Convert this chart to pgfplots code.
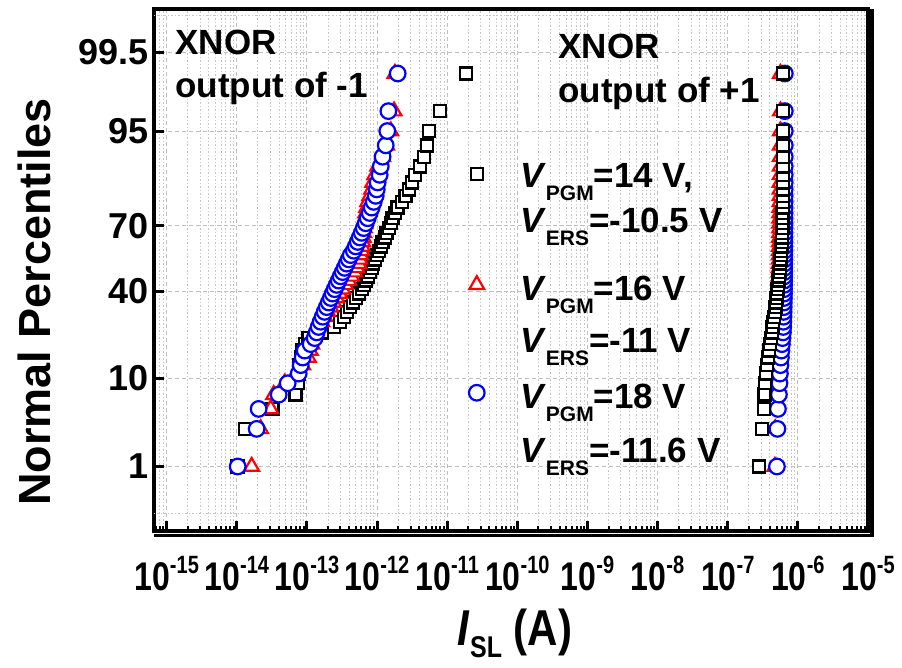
\documentclass[border=0pt]{standalone}
\usepackage{fontspec}
\setmainfont{Liberation Sans}
\usepackage{graphicx}
\usepackage{pgfplots}
\usepackage{pgfplotstable}
\pgfplotsset{compat=1.18}
\newcommand\fs[1]{\fontsize{#1}{#1}\selectfont}
\newcommand\xt[1]{\scalebox{1}[1.25]{10\raisebox{0.42em}{\fs{20}#1}}}
\newcommand\sub[1]{\raisebox{-13pt}{\fs{21}#1}}

\pgfplotstableread{
x z
1.03e-14 -2.3263
1.30e-14 -1.8808
3.25e-14 -1.6449
6.92e-14 -1.4758
7.40e-14 -1.3408
7.64e-14 -1.2265
7.89e-14 -1.1264
8.17e-14 -1.0364
8.43e-14 -0.9542
9.31e-14 -0.8779
1.06e-13 -0.8064
1.63e-13 -0.7388
2.41e-13 -0.6745
2.94e-13 -0.6128
3.35e-13 -0.5534
3.70e-13 -0.4959
4.08e-13 -0.4399
4.50e-13 -0.3853
4.97e-13 -0.3319
5.48e-13 -0.2793
6.05e-13 -0.2275
6.46e-13 -0.1764
6.90e-13 -0.1257
7.36e-13 -0.0753
7.87e-13 -0.0251
8.39e-13 0.0251
8.69e-13 0.0753
9.27e-13 0.1257
9.91e-13 0.1764
1.06e-12 0.2275
1.13e-12 0.2793
1.20e-12 0.3319
1.29e-12 0.3853
1.37e-12 0.4399
1.47e-12 0.4959
1.57e-12 0.5534
1.67e-12 0.6128
1.79e-12 0.6745
1.97e-12 0.7388
2.25e-12 0.8064
2.56e-12 0.8779
2.83e-12 0.9542
3.13e-12 1.0364
3.45e-12 1.1264
4.06e-12 1.2265
4.63e-12 1.3408
5.12e-12 1.4758
5.47e-12 1.6449
7.83e-12 1.8808
1.84e-11 2.3263
}\blackL

\pgfplotstableread{
x z
1.63e-14 -2.3263
2.19e-14 -1.8808
3.05e-14 -1.6449
3.36e-14 -1.4758
4.82e-14 -1.3408
6.92e-14 -1.2265
8.71e-14 -1.1264
1.05e-13 -1.0364
1.12e-13 -0.9542
1.17e-13 -0.8779
1.21e-13 -0.8064
1.29e-13 -0.7388
1.43e-13 -0.6745
1.63e-13 -0.6128
1.79e-13 -0.5534
1.98e-13 -0.4959
2.19e-13 -0.4399
2.41e-13 -0.3853
2.66e-13 -0.3319
2.94e-13 -0.2793
3.24e-13 -0.2275
3.57e-13 -0.1764
3.95e-13 -0.1257
4.35e-13 -0.0753
4.81e-13 -0.0251
5.13e-13 0.0251
5.48e-13 0.0753
5.67e-13 0.1257
5.85e-13 0.1764
6.05e-13 0.2275
6.15e-13 0.2793
6.25e-13 0.3319
6.35e-13 0.3853
6.46e-13 0.4399
6.57e-13 0.4959
6.68e-13 0.5534
6.79e-13 0.6128
6.90e-13 0.6745
7.13e-13 0.7388
7.36e-13 0.8064
7.87e-13 0.8779
8.39e-13 0.9542
8.69e-13 1.0364
9.27e-13 1.1264
1.02e-12 1.2265
1.20e-12 1.3408
1.37e-12 1.4758
1.57e-12 1.6449
1.75e-12 1.8808
1.80e-12 2.3263
}\redL

\pgfplotstableread{
x z
1.03e-14 -2.3263
1.92e-14 -1.8808
2.05e-14 -1.6449
3.96e-14 -1.4758
5.32e-14 -1.3408
7.64e-14 -1.2265
8.17e-14 -1.1264
8.71e-14 -1.0364
9.31e-14 -0.9542
1.13e-13 -0.8779
1.29e-13 -0.8064
1.38e-13 -0.7388
1.47e-13 -0.6745
1.57e-13 -0.6128
1.68e-13 -0.5534
1.79e-13 -0.4959
1.92e-13 -0.4399
2.05e-13 -0.3853
2.19e-13 -0.3319
2.33e-13 -0.2793
2.49e-13 -0.2275
2.66e-13 -0.1764
2.84e-13 -0.1257
3.03e-13 -0.0753
3.24e-13 -0.0251
3.46e-13 0.0251
3.70e-13 0.0753
3.95e-13 0.1257
4.22e-13 0.1764
4.66e-13 0.2275
4.97e-13 0.2793
5.31e-13 0.3319
5.67e-13 0.3853
6.05e-13 0.4399
6.46e-13 0.4959
6.90e-13 0.5534
7.36e-13 0.6128
7.87e-13 0.6745
8.39e-13 0.7388
8.97e-13 0.8064
9.57e-13 0.8779
9.91e-13 0.9542
1.02e-12 1.0364
1.09e-12 1.1264
1.13e-12 1.2265
1.20e-12 1.3408
1.33e-12 1.4758
1.40e-12 1.6449
1.45e-12 1.8808
1.97e-12 2.3263
}\blueL

\pgfplotstableread{
x z
2.79e-7 -2.3263
3.08e-7 -1.8808
3.28e-7 -1.6449
3.34e-7 -1.4758
3.39e-7 -1.3408
3.51e-7 -1.2265
3.62e-7 -1.1264
3.74e-7 -1.0364
3.87e-7 -0.9542
4.00e-7 -0.8779
4.13e-7 -0.8064
4.27e-7 -0.7388
4.34e-7 -0.6745
4.41e-7 -0.6128
4.56e-7 -0.5534
4.71e-7 -0.4959
4.79e-7 -0.4399
4.87e-7 -0.3853
4.95e-7 -0.3319
5.03e-7 -0.2793
5.11e-7 -0.2275
5.20e-7 -0.1764
5.28e-7 -0.1257
5.37e-7 -0.0753
5.47e-7 -0.0251
5.55e-7 0.0251
5.61e-7 0.0753
5.66e-7 0.1257
5.74e-7 0.1764
5.80e-7 0.2275
5.85e-7 0.2793
5.89e-7 0.3319
5.93e-7 0.3853
5.97e-7 0.4399
6.01e-7 0.4959
6.03e-7 0.5534
6.05e-7 0.6128
6.07e-7 0.6745
6.09e-7 0.7388
6.11e-7 0.8064
6.12e-7 0.8779
6.13e-7 0.9542
6.13e-7 1.0364
6.14e-7 1.1264
6.14e-7 1.2265
6.15e-7 1.3408
6.15e-7 1.4758
6.16e-7 1.6449
6.16e-7 1.8808
6.17e-7 2.3263
}\blackR

\pgfplotstableread{
x z
4.71e-7 -2.3263
4.75e-7 -1.8808
4.79e-7 -1.6449
4.83e-7 -1.4758
4.87e-7 -1.3408
4.91e-7 -1.2265
4.95e-7 -1.1264
4.99e-7 -1.0364
5.03e-7 -0.9542
5.07e-7 -0.8779
5.11e-7 -0.8064
5.15e-7 -0.7388
5.20e-7 -0.6745
5.24e-7 -0.6128
5.28e-7 -0.5534
5.30e-7 -0.4959
5.32e-7 -0.4399
5.33e-7 -0.3853
5.34e-7 -0.3319
5.35e-7 -0.2793
5.36e-7 -0.2275
5.37e-7 -0.1764
5.38e-7 -0.1257
5.39e-7 -0.0753
5.40e-7 -0.0251
5.41e-7 0.0251
5.42e-7 0.0753
5.43e-7 0.1257
5.44e-7 0.1764
5.45e-7 0.2275
5.46e-7 0.2793
5.47e-7 0.3319
5.48e-7 0.3853
5.49e-7 0.4399
5.50e-7 0.4959
5.51e-7 0.5534
5.52e-7 0.6128
5.53e-7 0.6745
5.54e-7 0.7388
5.55e-7 0.8064
5.56e-7 0.8779
5.57e-7 0.9542
5.58e-7 1.0364
5.59e-7 1.1264
5.60e-7 1.2265
5.61e-7 1.3408
5.62e-7 1.4758
5.63e-7 1.6449
5.64e-7 1.8808
5.65e-7 2.3263
}\redR

\pgfplotstableread{
x z
5.03e-7 -2.3263
5.11e-7 -1.8808
5.20e-7 -1.6449
5.37e-7 -1.4758
5.47e-7 -1.3408
5.55e-7 -1.2265
5.65e-7 -1.1264
5.74e-7 -1.0364
5.83e-7 -0.9542
5.93e-7 -0.8779
6.03e-7 -0.8064
6.13e-7 -0.7388
6.19e-7 -0.6745
6.22e-7 -0.6128
6.25e-7 -0.5534
6.27e-7 -0.4959
6.29e-7 -0.4399
6.31e-7 -0.3853
6.33e-7 -0.3319
6.35e-7 -0.2793
6.36e-7 -0.2275
6.37e-7 -0.1764
6.38e-7 -0.1257
6.39e-7 -0.0753
6.40e-7 -0.0251
6.41e-7 0.0251
6.41e-7 0.0753
6.42e-7 0.1257
6.42e-7 0.1764
6.43e-7 0.2275
6.43e-7 0.2793
6.44e-7 0.3319
6.44e-7 0.3853
6.45e-7 0.4399
6.45e-7 0.4959
6.46e-7 0.5534
6.46e-7 0.6128
6.47e-7 0.6745
6.47e-7 0.7388
6.48e-7 0.8064
6.48e-7 0.8779
6.49e-7 0.9542
6.49e-7 1.0364
6.50e-7 1.1264
6.50e-7 1.2265
6.50e-7 1.3408
6.51e-7 1.4758
6.51e-7 1.6449
6.52e-7 1.8808
6.52e-7 2.3263
}\blueR

\begin{document}
\begin{tikzpicture}
\begin{axis}[
  name=ax,
  scale only axis, width=714pt, height=522pt,
  xmode=log, xmin=6.6e-16, xmax=1e-5,
  ymin=-3.09, ymax=3.09,
  xtick={1e-15,1e-14,1e-13,1e-12,1e-11,1e-10,1e-9,1e-8,1e-7,1e-6,1e-5},
  xticklabels={\xt{-15},\xt{-14},\xt{-13},\xt{-12},\xt{-11},\xt{-10},\xt{-9},\xt{-8},\xt{-7},\xt{-6},\xt{-5}},
  minor xtick={7e-16,8e-16,9e-16,
    2e-15,3e-15,4e-15,5e-15,6e-15,7e-15,8e-15,9e-15,
    2e-14,3e-14,4e-14,5e-14,6e-14,7e-14,8e-14,9e-14,
    2e-13,3e-13,4e-13,5e-13,6e-13,7e-13,8e-13,9e-13,
    2e-12,3e-12,4e-12,5e-12,6e-12,7e-12,8e-12,9e-12,
    2e-11,3e-11,4e-11,5e-11,6e-11,7e-11,8e-11,9e-11,
    2e-10,3e-10,4e-10,5e-10,6e-10,7e-10,8e-10,9e-10,
    2e-9,3e-9,4e-9,5e-9,6e-9,7e-9,8e-9,9e-9,
    2e-8,3e-8,4e-8,5e-8,6e-8,7e-8,8e-8,9e-8,
    2e-7,3e-7,4e-7,5e-7,6e-7,7e-7,8e-7,9e-7,
    2e-6,3e-6,4e-6,5e-6,6e-6,7e-6,8e-6,9e-6},
  ytick={-2.3263,-1.2816,-0.2533,0.5244,1.6449,2.5758},
  yticklabels={1,10,40,70,95,99.5},
  extra y ticks={-2.877,3.019},
  extra y tick labels={},
  extra y tick style={major tick length=0pt, major grid style={gray!45, line width=0.9pt, dash pattern=on 1.5pt off 2pt}},
  xtick pos=left, ytick pos=left,
  tick align=inside,
  major tick length=10pt, minor tick length=5pt,
  every major tick/.append style={black, line width=3pt},
  every minor tick/.append style={black, line width=2pt},
  xmajorgrids, xminorgrids, ymajorgrids,
  major grid style={gray!50, line width=0.9pt, dash pattern=on 4pt off 3pt},
  minor grid style={gray!45, line width=0.9pt, dash pattern=on 1.5pt off 2pt},
  axis line style={line width=4.5pt},
  xticklabel style={font={\fs{32}\bfseries}, yshift=-22pt},
  yticklabel style={font={\fs{36}\bfseries}, xshift=-2pt},
  legend image code/.code={\draw[#1] plot coordinates {(0pt,0pt)};},
  legend style={at={(rel axis cs:0.4412,0.6950)}, anchor=north west, draw=none, fill=none,
    inner sep=0pt, outer sep=0pt, row sep=96pt, column sep=0pt,
    nodes={text height=0pt, text depth=0pt, inner sep=0pt, font=\tiny}},
]
\addplot[only marks, color=black, mark=square*, mark size=6pt, line width=2.4pt, mark options={fill=white}] table[x=x,y=z]{\blackL};
\addlegendentry{\mbox{}}
\addplot[only marks, color=red, mark=triangle*, mark size=8.5pt, line width=2.2pt, mark options={fill=white}] table[x=x,y=z]{\redL};
\addlegendentry{\mbox{}}
\addplot[only marks, color=blue, mark=*, mark size=7.8pt, line width=2.2pt, mark options={fill=white}] table[x=x,y=z]{\blueL};
\addlegendentry{\mbox{}}
\addplot[forget plot, only marks, color=red, mark=triangle*, mark size=8.5pt, line width=2.2pt, mark options={fill=white}] table[x=x,y=z]{\redR};
\addplot[forget plot, only marks, color=blue, mark=*, mark size=7.8pt, line width=2.2pt, mark options={fill=white}] table[x=x,y=z]{\blueR};
\addplot[forget plot, only marks, color=black, mark=square*, mark size=6pt, line width=2.4pt, mark options={fill=white}] table[x=x,y=z]{\blackR};

\node[anchor=base west, font={\fs{35}\bfseries}] at (rel axis cs:0.0252,0.9119) {XNOR};
\node[anchor=base west, font={\fs{35}\bfseries}] at (rel axis cs:0.0252,0.8295) {output of -1};
\node[anchor=base west, font={\fs{35}\bfseries}] at (rel axis cs:0.5616,0.9061) {XNOR};
\node[anchor=base west, font={\fs{35}\bfseries}] at (rel axis cs:0.5616,0.8218) {output of +1};
\node[anchor=base west, inner sep=0pt, font={\fs{35}\bfseries}] at (rel axis cs:0.5126,0.6571) {\textit{V}\sub{PGM}=14 V,};
\node[anchor=base west, inner sep=0pt, font={\fs{35}\bfseries}] at (rel axis cs:0.5126,0.5709) {\textit{V}\sub{ERS}=-10.5 V};
\node[anchor=base west, inner sep=0pt, font={\fs{35}\bfseries}] at (rel axis cs:0.5126,0.4425) {\textit{V}\sub{PGM}=16 V};
\node[anchor=base west, inner sep=0pt, font={\fs{35}\bfseries}] at (rel axis cs:0.5126,0.3410) {\textit{V}\sub{ERS}=-11 V};
\node[anchor=base west, inner sep=0pt, font={\fs{35}\bfseries}] at (rel axis cs:0.5126,0.2356) {\textit{V}\sub{PGM}=18 V};
\node[anchor=base west, inner sep=0pt, font={\fs{35}\bfseries}] at (rel axis cs:0.5126,0.1303) {\textit{V}\sub{ERS}=-11.6 V};
\end{axis}
\node[rotate=90, font={\fs{45}\bfseries}] at ([shift={(-120pt,229pt)}]ax.south west) {Normal Percentiles};
\node[anchor=base, font={\fs{42}\bfseries}] at ([shift={(361pt,-114pt)}]ax.south west) {\scalebox{1}[1.2]{\textit{I}\raisebox{-10pt}{\fs{25}SL} (A)}};
\draw[line width=4pt] ([xshift=4pt,yshift=-4pt]ax.south east) -- ([xshift=4pt,yshift=0pt]ax.north east);
\draw[line width=3pt] ([xshift=0pt,yshift=-4pt]ax.south west) -- ([xshift=6pt,yshift=-4pt]ax.south east);
\pgfresetboundingbox
\path ([shift={(-154pt,-136pt)}]ax.south west) rectangle ++(902pt,667pt);
\end{tikzpicture}
\end{document}
